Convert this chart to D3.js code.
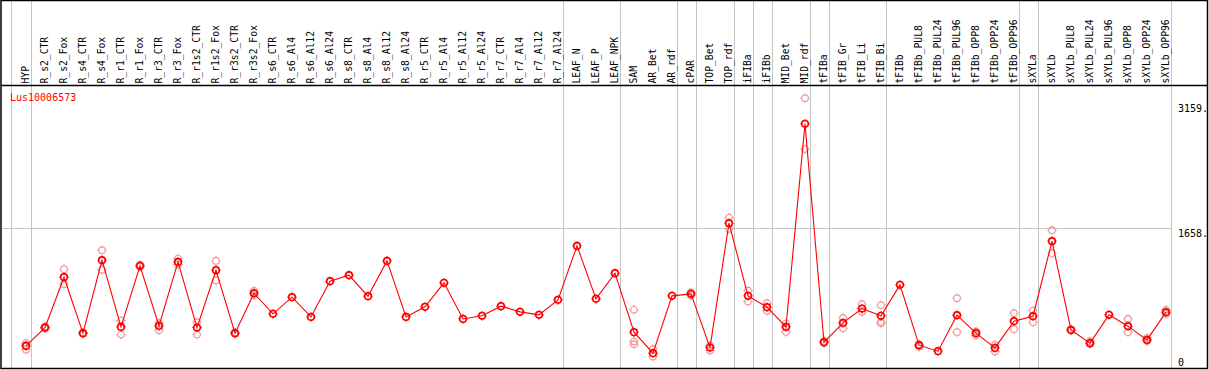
<!DOCTYPE html>
<html>
<head>
<meta charset="utf-8">
<script src="https://cdn.jsdelivr.net/npm/d3@7"></script>
<style>
html,body{margin:0;padding:0;background:#fff;}
svg{display:block;}
text{font-family:"DejaVu Sans Mono",monospace;}
</style>
</head>
<body>
<svg id="chart" width="1209" height="370"></svg>
<script>
const geneName = "Lus10006573";

const categories = ["HYP","R_s2_CTR","R_s2_Fox","R_s4_CTR","R_s4_Fox","R_r1_CTR","R_r1_Fox","R_r3_CTR","R_r3_Fox",
  "R_r1s2_CTR","R_r1s2_Fox","R_r3s2_CTR","R_r3s2_Fox","R_s6_CTR","R_s6_Al4","R_s6_Al12","R_s6_Al24",
  "R_s8_CTR","R_s8_Al4","R_s8_Al12","R_s8_Al24","R_r5_CTR","R_r5_Al4","R_r5_Al12","R_r5_Al24",
  "R_r7_CTR","R_r7_Al4","R_r7_Al12","R_r7_Al24","LEAF_N","LEAF_P","LEAF_NPK","SAM","AR_Bet","AR_rdf",
  "cPAR","TOP_Bet","TOP_rdf","iFIBa","iFIBb","MID_Bet","MID_rdf","tFIBa","tFIB_Gr","tFIB_Li","tFIB_Bi",
  "tFIBb","tFIBb_PUL8","tFIBb_PUL24","tFIBb_PUL96","tFIBb_OPP8","tFIBb_OPP24","tFIBb_OPP96",
  "sXYLa","sXYLb","sXYLb_PUL8","sXYLb_PUL24","sXYLb_PUL96","sXYLb_OPP8","sXYLb_OPP24","sXYLb_OPP96"];

const meanValues = [246,466,1071,399,1275,474,1207,486,1255,
  466,1155,399,879,631,831,594,1023,
  1095,843,1267,594,715,1003,570,607,
  723,655,619,799,1447,811,1119,411,159,847,
  871,226,1720,847,711,474,2912,291,522,694,607,
  979,255,183,615,399,222,543,
  603,1504,438,279,619,483,318,651];

const replicateValues = [[280,200,255],[480,455],[1167,987],[405,393],[1396,1159],[550,382],[1220,1195],[519,435],[1295,1223],
  [531,382],[1267,1030],[405,393],[907,855],null,null,null,null,
  null,null,null,null,null,null,null,null,
  null,null,null,null,null,null,null,[679,298,267],[207,118],null,
  [890,850],[250,190],[1787,1651],[910,778],[759,667],[514,414],[3221,2609],[305,280],[582,459],[747,655],[735,534,519],
  null,[265,235],null,[819,411],[420,375],[258,178],[639,447],
  [670,531],[1636,1360],[445,430],[300,270],null,[570,411],[340,305],[680,630]];

const yTickValues = [0,1658,3159];

// category after which a group separator is drawn
const groupEnds = ["HYP","R_r7_Al24","LEAF_NPK","AR_rdf","cPAR","TOP_rdf","iFIBa","iFIBb","MID_rdf","tFIBa",
  "tFIB_Bi","tFIBb_OPP96","sXYLa","sXYLb_OPP96"];

const svg = d3.select("#chart");
const headerY = 85.5, bottomY = 368.5;

const x = d3.scalePoint().domain(categories).range([26, 1166]);
const y = d3.scaleLinear().domain([0, 3159]).range([366.4, 103.3]);

const grey = "#c4c4c4";

// group separators
const sepX = [x(categories[0]) - 15.5].concat(groupEnds.map(c => x(c) + 4.5));
svg.append("g").selectAll("line").data(sepX).join("line")
  .attr("x1", d => Math.round(d) + 0.5).attr("x2", d => Math.round(d) + 0.5)
  .attr("y1", 0).attr("y2", bottomY)
  .attr("stroke", grey).attr("stroke-width", 1);

// horizontal gridline(s) for interior ticks
const plotRight = x(categories[categories.length - 1]) + 4.5;
svg.append("g").selectAll("line").data(yTickValues.filter(v => v > 0 && v < 3159)).join("line")
  .attr("x1", 1.5).attr("x2", Math.round(plotRight) + 0.5)
  .attr("y1", d => Math.round(y(d)) + 0.5).attr("y2", d => Math.round(y(d)) + 0.5)
  .attr("stroke", grey).attr("stroke-width", 1);

// frame
svg.append("rect").attr("x", 1).attr("y", 0.5).attr("width", 1206.5).attr("height", bottomY - 0.5)
  .attr("fill", "none").attr("stroke", "#000").attr("stroke-width", 1.5);
svg.append("line").attr("x1", 1).attr("x2", 1207.5).attr("y1", headerY).attr("y2", headerY)
  .attr("stroke", "#000").attr("stroke-width", 1.3);

// header labels
svg.append("g").selectAll("text").data(categories).join("text")
  .attr("transform", d => `translate(${x(d) + 2.5},83.5) rotate(-90)`)
  .attr("font-size", "9.7px").attr("fill", "#000")
  .text(d => d);

// y axis on the right
const yAxis = d3.axisRight(y).tickValues(yTickValues).tickSize(0)
  .tickFormat(d => d === 0 ? "0" : d + ".");
const ag = svg.append("g").attr("transform", "translate(1177,0)").call(yAxis);
ag.select(".domain").remove();
ag.selectAll(".tick text")
  .attr("x", 1).attr("dy", null)
  .attr("y", d => Math.min(y(d) + 8, 365.5) - y(d))
  .attr("font-family", "DejaVu Sans Mono, monospace").attr("font-size", "10px")
  .attr("fill", "#000").attr("text-anchor", "start");

// gene name
svg.append("text").attr("x", 10).attr("y", 101).attr("font-size", "10px").attr("fill", "#ff0000").text(geneName);

// marker helper
function marker(g, cx, cy, color, r, sw) {
  g.append("circle").attr("cx", cx).attr("cy", cy).attr("r", r)
    .attr("fill", "none").attr("stroke", color).attr("stroke-width", sw);
  const t = [[0,-1],[0,1],[-1,0],[1,0]];
  t.forEach(([dx,dy]) => {
    g.append("line")
      .attr("x1", cx + dx*(r-0.5)).attr("y1", cy + dy*(r-0.5))
      .attr("x2", cx + dx*(r+1.5)).attr("y2", cy + dy*(r+1.5))
      .attr("stroke", color).attr("stroke-width", 1);
  });
}

// replicates
const repG = svg.append("g");
categories.forEach((c, i) => {
  const reps = replicateValues[i];
  if (!reps) return;
  reps.forEach(v => marker(repG, x(c), y(v), "#ef9a9a", 3.3, 1.1));
});

// mean line
const line = d3.line().x((d, i) => x(categories[i])).y(d => y(d));
svg.append("path").datum(meanValues).attr("d", line)
  .attr("fill", "none").attr("stroke", "#ff0000").attr("stroke-width", 1.1);

// mean markers
const mG = svg.append("g");
meanValues.forEach((v, i) => marker(mG, x(categories[i]), y(v), "#ff0000", 3.3, 1.6));
</script>
</body>
</html>
